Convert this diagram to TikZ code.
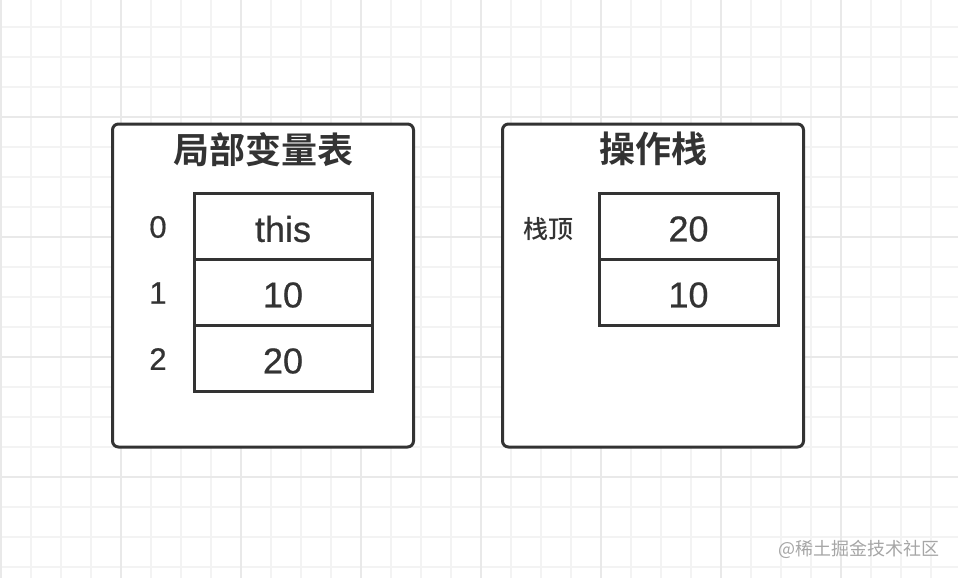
\documentclass[tikz,border=0pt]{standalone}
\usepackage{fontspec}
\setmainfont{Liberation Sans}
\newfontfamily\numf[FakeBold=0.6]{Liberation Sans}
\newfontfamily\cjk[BoldFont={Noto Sans CJK SC Bold}]{Noto Sans CJK SC}
\newfontfamily\cjkm{Noto Sans CJK SC Medium}
\definecolor{ink}{HTML}{333333}
\definecolor{gridminor}{HTML}{F3F3F3}
\definecolor{gridmajor}{HTML}{E9E9E9}
\definecolor{mark}{HTML}{A6A6A6}
\begin{document}
\begin{tikzpicture}[x=1pt,y=-1pt,
  minorline/.style={gridminor,line width=1.5pt},
  majorline/.style={gridmajor,line width=2pt},
  panel/.style={draw=ink,line width=3pt,rounded corners=6pt,fill=white,minimum width=301pt,minimum height=323pt,inner sep=0pt,outer sep=0pt},
  cell/.style={draw=ink,line width=3pt,minimum width=178pt,minimum height=66pt,inner sep=0pt,outer sep=0pt},
  val/.style={text=ink,font=\numf\fontsize{36}{40}\selectfont,inner sep=0pt},
  title/.style={text=ink,font=\cjk\bfseries\fontsize{36}{40}\selectfont,inner sep=0pt},
  idx/.style={text=ink,font=\numf\fontsize{31}{36}\selectfont,inner sep=0pt},
  side/.style={text=ink,font=\cjkm\fontsize{25}{28}\selectfont,inner sep=0pt},
  wm/.style={text=mark,font=\cjk\fontsize{18}{20}\selectfont,inner sep=0pt}]
\useasboundingbox (0,0) rectangle (958,578);
\fill[white] (0,0) rectangle (958,578);
% grid
\foreach \x in {1,31,...,958} \draw[minorline] (\x,0) -- (\x,578);
\foreach \y in {27,57,...,578} \draw[minorline] (0,\y) -- (958,\y);
\foreach \x in {1,121,...,958} \draw[majorline] (\x,0) -- (\x,578);
\foreach \y in {117,237,...,578} \draw[majorline] (0,\y) -- (958,\y);
% left panel
\node[panel] (lv) at (263,285.5) {};
\node[title] (lvt) at (263,150) {局部变量表};
\node[cell] (l0) at (283,226.5) {};
\node[cell] (l1) at (283,292.5) {};
\node[cell] (l2) at (283,358.5) {};
\node[val] (v0) at (283,229) {this};
\node[val] (v1) at (283,295) {10};
\node[val] (v2) at (283,361) {20};
\node[idx] (i0) at (158,227) {0};
\node[idx] (i1) at (158,293) {1};
\node[idx] (i2) at (158,359) {2};
% right panel
\node[panel] (os) at (653,285.5) {};
\node[title] (ost) at (653,149) {操作栈};
\node[cell,minimum width=179pt] (s0) at (688.5,226.5) {};
\node[cell,minimum width=179pt] (s1) at (688.5,292.5) {};
\node[val] (w0) at (688.5,229) {20};
\node[val] (w1) at (688.5,295) {10};
\node[side] (top) at (548,229) {栈顶};
% watermark
\node[wm,anchor=east] (wmk) at (940,549) {@稀土掘金技术社区};
\end{tikzpicture}
\end{document}
